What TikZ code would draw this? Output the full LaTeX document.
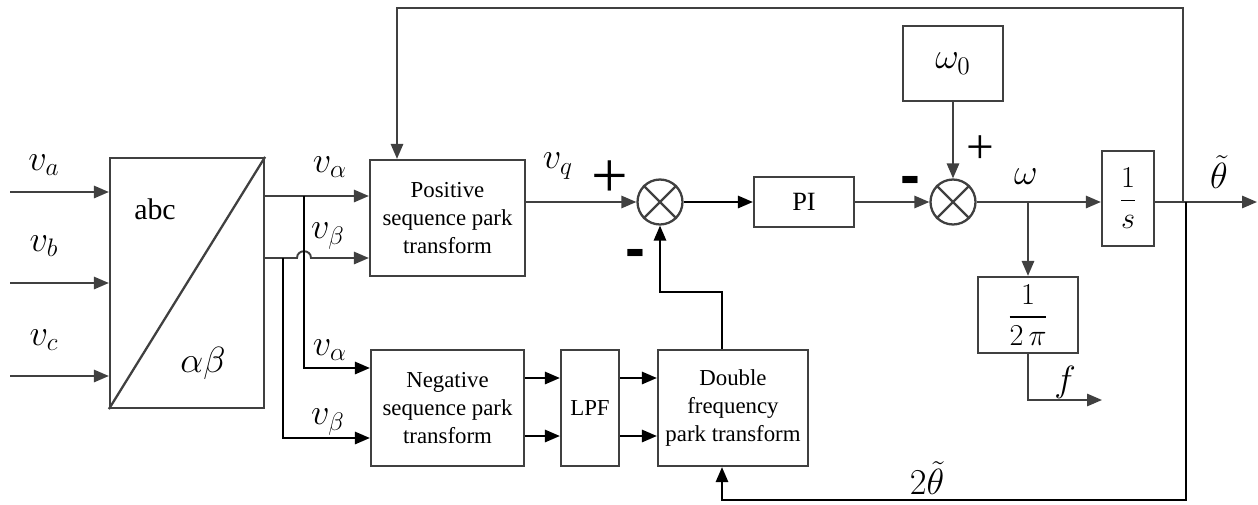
\documentclass[tikz,border=0pt]{standalone}
\usepackage{amsmath}
\usepackage{fontspec}
\setmainfont{Liberation Serif}
\newfontfamily\tnr{Liberation Serif}
\newfontfamily\sansb{Liberation Sans}
\usetikzlibrary{arrows.meta}
\definecolor{lg}{HTML}{404040}
\begin{document}
\begin{tikzpicture}[x=0.02cm,y=-0.02cm,
  blk/.style={draw=lg,line width=1.3pt,inner sep=0pt,align=center,font=\tnr\fontsize{13}{16}\selectfont},
  sumn/.style={circle,draw=lg,line width=1.3pt,minimum size=0.9cm,inner sep=0pt},
  ln/.style={line width=1.1pt,color=lg,-{Triangle[length=8.5pt,width=7pt]}},
  bln/.style={line width=1.1pt,color=black,-{Triangle[length=8.5pt,width=7pt]}},
  pl/.style={line width=1.1pt,color=lg},
  mt/.style={font=\fontsize{20}{22}\selectfont,inner sep=0pt},
  plus/.style={font=\tnr\fontsize{#1}{#1}\selectfont,inner sep=0pt,anchor=base},
  minus/.style={font=\sansb\bfseries\fontsize{34}{34}\selectfont,inner sep=0pt,anchor=base},
]
\useasboundingbox (0,0) rectangle (1258,504);
% blocks
\node[blk,minimum width=3.08cm,minimum height=5cm] (abc) at (187,283) {};
\draw[pl,line width=1.3pt] (abc.south west) -- (abc.north east);
\node[font=\tnr\fontsize{17}{19}\selectfont,inner sep=0pt] (tabc) at (155,209) {abc};
\node[mt] (tab) at (203,363) {$\alpha\beta$};
\node[blk,minimum width=3.1cm,minimum height=2.32cm] (pos) at (447.5,218) {Positive\\sequence park\\transform};
\node[blk,minimum width=3.06cm,minimum height=2.32cm] (neg) at (447.5,408) {Negative\\sequence park\\transform};
\node[blk,minimum width=1.16cm,minimum height=2.32cm] (lpf) at (590,408) {LPF};
\node[blk,minimum width=3cm,minimum height=2.32cm] (dbl) at (733,408) {Double\\frequency\\park transform};
\node[blk,minimum width=2cm,minimum height=1cm,font=\tnr\fontsize{15}{18}\selectfont] (pi) at (804,202) {PI};
\node[blk,minimum width=2cm,minimum height=1.5cm,font=\fontsize{20}{22}\selectfont] (w0) at (953,63.5) {$\omega_0$};
\node[blk,minimum width=1.04cm,minimum height=1.9cm,font=\fontsize{17}{20}\selectfont] (ints) at (1128,198.5) {$\dfrac{1}{s}$};
\node[blk,minimum width=2cm,minimum height=1.52cm,font=\fontsize{17}{20}\selectfont] (k2pi) at (1028,315) {$\dfrac{\;1\;}{2\,\pi}$};
\node[sumn] (s1) at (660,202) {};
\node[sumn] (s2) at (953,202) {};
\draw[pl,line width=1.3pt] (s1.45) -- (s1.225) (s1.135) -- (s1.315);
\draw[pl,line width=1.3pt] (s2.45) -- (s2.225) (s2.135) -- (s2.315);
% coordinates
\coordinate (ia) at (10,192);
\coordinate (ib) at (10,283);
\coordinate (ic) at (10,376);
\coordinate (ya) at (264,196);
\coordinate (yb) at (264,258);
\coordinate (ja) at (304,196);
\coordinate (jb) at (283,258);
\coordinate (na) at (371,368);
\coordinate (nb) at (371,438);
\coordinate (r1) at (0,378);
\coordinate (r2) at (0,436);
\coordinate (dx) at (722,292);
\coordinate (wj) at (1028,202);
\coordinate (fo) at (1102,400);
\coordinate (out) at (1257,202);
\coordinate (tj) at (1183,202);
\coordinate (tt) at (1183,8);
\coordinate (tp) at (397,8);
\coordinate (bj) at (1186,202);
\coordinate (bb) at (1186,500);
% connectors
\draw[ln] (ia) -- (abc.west |- ia);
\draw[ln] (ib) -- (abc.west |- ib);
\draw[ln] (ic) -- (abc.west |- ic);
\draw[ln] (ya) -- (pos.west |- ya);
\draw[ln] (yb) -- (297,258) .. controls (297,249) and (311,249) .. (311,258) -- (pos.west |- yb);
\draw[bln] (ja) |- (neg.west |- na);
\draw[bln] (jb) |- (neg.west |- nb);
\draw[bln] (neg.east |- r1) -- (lpf.west |- r1);
\draw[bln] (neg.east |- r2) -- (lpf.west |- r2);
\draw[bln] (lpf.east |- r1) -- (dbl.west |- r1);
\draw[bln] (lpf.east |- r2) -- (dbl.west |- r2);
\draw[bln] (dbl.north -| dx) -- (dx) -| (s1.south);
\draw[ln] (pos.east |- s1) -- (s1.west);
\draw[bln] (s1.east) -- (pi.west);
\draw[ln] (pi.east) -- (s2.west);
\draw[ln] (w0.south) -- (s2.north);
\draw[ln] (s2.east) -- (ints.west |- s2);
\draw[ln] (wj) -- (k2pi.north);
\draw[ln] (k2pi.south) |- (fo);
\draw[ln] (ints.east |- s2) -- (out);
\draw[ln] (tj) -- (tt) -- (tp) -- (pos.north -| tp);
\draw[bln] (bj) -- (bb) -| (dbl.south -| dx);
% labels
\node[mt] (la) at (44,165) {$v_a$};
\node[mt] (lb) at (44,246) {$v_b$};
\node[mt] (lc) at (44,340) {$v_c$};
\node[mt] (lal1) at (330,167) {$v_\alpha$};
\node[mt] (lbe1) at (328,236) {$v_\beta$};
\node[mt] (lal2) at (330,350) {$v_\alpha$};
\node[mt] (lbe2) at (328,422) {$v_\beta$};
\node[mt] (lq) at (558,166) {$v_q$};
\node[plus=37] (p1) at (610,197) {+};
\node[minus] (m1) at (635,268) {-};
\node[plus=28] (p2) at (980,163) {+};
\node[minus] (m2) at (910,195) {-};
\node[mt] (lw) at (1026,177) {$\omega$};
\node[mt] (lth) at (1219,172) {$\tilde\theta$};
\node[mt] (lf) at (1065,382) {$f$};
\node[mt] (l2th) at (927,478) {$2\tilde\theta$};
\end{tikzpicture}
\end{document}
